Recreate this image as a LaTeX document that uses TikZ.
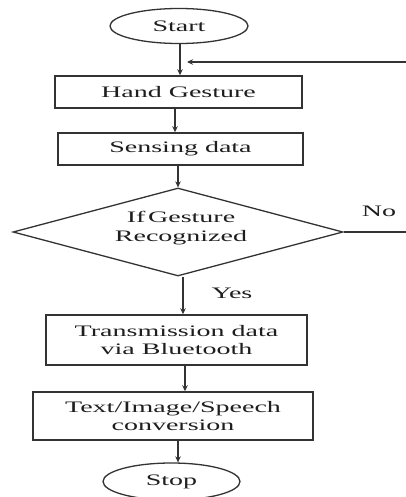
\documentclass[tikz,border=0pt]{standalone}
\usepackage{fontspec}
\setmainfont{Liberation Serif}[FakeStretch=1.75]
\usetikzlibrary{shapes.geometric,arrows.meta}
\definecolor{ink}{HTML}{1E1E1E}
\definecolor{edge}{HTML}{333333}
\begin{document}
\begin{tikzpicture}[x=1pt,y=-1pt,
  every node/.style={text=ink,font=\fontsize{16}{17.5}\selectfont},
  procbox/.style={draw=edge,line width=1.5pt,rectangle,inner sep=0pt,align=center},
  termbox/.style={draw=edge,line width=1.3pt,ellipse,inner sep=0pt},
  decbox/.style={draw=edge,line width=1.3pt,diamond,inner sep=0pt,align=center},
  arr/.style={draw=edge,line width=1.4pt,-{Stealth[length=6pt,width=5.5pt]}},
  plain/.style={draw=edge!70,line width=1.2pt}]
\useasboundingbox (0,0) rectangle (406,497);
\clip (0,0) rectangle (406,497);
\fill[white] (0,0) rectangle (406,497);

\node[termbox,minimum width=138pt,minimum height=35pt] (start) at (179,26) {Start};
\node[procbox,minimum width=247pt,minimum height=32pt] (hand) at (178.5,92) {Hand Gesture};
\node[procbox,minimum width=245pt,minimum height=32pt] (sense) at (180.5,149) {Sensing data};
\node[decbox,minimum width=330pt,minimum height=88pt] (dia) at (178,232) {};
\node[align=center,font=\fontsize{16}{19}\selectfont] (dtext) at (181,228) {If\,Gesture\\Recognized};
\node[procbox,minimum width=261pt,minimum height=50pt] (trans) at (176.5,340) {Transmission data\\via Bluetooth};
\node[procbox,minimum width=280pt,minimum height=48pt] (conv) at (173,416) {Text/Image/Speech\\conversion};
\node[termbox,minimum width=137pt,minimum height=37pt] (stop) at (171.5,481.5) {Stop};

\node (no) at (379,211) {No};
\node (yes) at (232,293) {Yes};

\coordinate (join) at (187,62);

\draw[arr] (start.south -| 180,0) -- (hand.north -| 180,0);
\draw[arr] (hand.south -| 175,0) -- (sense.north -| 175,0);
\draw[arr] (sense.south -| dia.north) -- (dia.north);
\draw[arr] (dia.south -| 183,0) -- (trans.north -| 183,0);
\draw[arr] (trans.south -| 185,0) -- (conv.north -| 185,0);
\draw[arr] (conv.south -| 178,0) -- (stop.north -| 178,0);
\draw[arr] (dia.east) -- ++(70,0) |- (join);
\end{tikzpicture}
\end{document}
